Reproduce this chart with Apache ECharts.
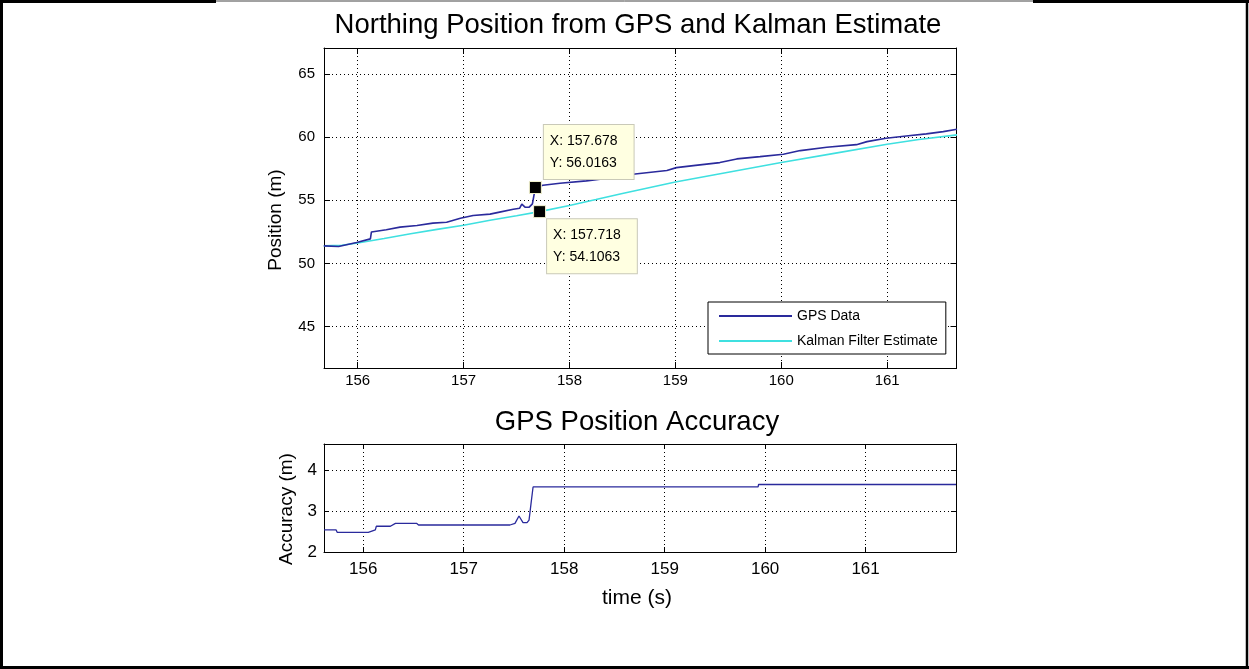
<!DOCTYPE html>
<html>
<head>
<meta charset="utf-8">
<script src="https://cdn.jsdelivr.net/npm/echarts@6/dist/echarts.min.js"></script>
<style>
html,body{margin:0;padding:0;background:#fff;}
#chart{width:1249px;height:669px;}
</style>
</head>
<body>
<div id="chart"></div>
<script>
// ---- data ----
const gpsT = [155.68,155.82,155.99,156.12,156.13,156.27,156.40,156.56,156.71,156.84,156.97,157.09,157.25,157.34,157.47,157.53,157.55,157.58,157.62,157.65,157.678,157.75,157.91,158.16,158.40,158.62,158.92,159.01,159.17,159.42,159.58,159.80,160.02,160.18,160.43,160.71,160.81,160.99,161.18,161.37,161.53,161.66];
const gpsY = [51.40,51.35,51.67,51.95,52.50,52.67,52.88,53.01,53.20,53.27,53.59,53.80,53.91,54.07,54.30,54.38,54.70,54.46,54.46,54.72,56.0163,56.20,56.36,56.54,56.80,57.09,57.36,57.59,57.75,57.99,58.28,58.46,58.65,58.94,59.20,59.41,59.65,59.92,60.10,60.26,60.44,60.63];
const kalT = [155.68,155.85,156.0,156.25,156.5,156.75,157.0,157.25,157.5,157.718,158.0,158.25,158.5,158.75,159.0,159.5,160.0,160.5,161.0,161.3,161.66];
const kalY = [51.40,51.45,51.62,51.98,52.35,52.70,53.03,53.42,53.78,54.1063,54.60,55.07,55.55,56.00,56.45,57.22,57.99,58.72,59.44,59.82,60.18];
const accT = [155.61,155.73,155.74,156.05,156.12,156.13,156.27,156.32,156.53,156.55,157.46,157.51,157.55,157.59,157.63,157.65,157.67,157.69,159.93,159.935,161.9];
const accY = [2.54,2.54,2.48,2.48,2.54,2.63,2.63,2.70,2.70,2.66,2.66,2.70,2.88,2.72,2.72,2.78,3.19,3.59,3.59,3.65,3.65];
const tipX = [157.678, 157.718];
const tipY = [56.0163, 54.1063];
const seriesNames = ['GPS Data', 'Kalman Filter Estimate', 'Accuracy'];
const titles = ['Northing Position from GPS and Kalman Estimate', 'GPS Position Accuracy'];
const axisNames = ['Position (m)', 'Accuracy (m)', 'time (s)'];

const pair = (a, b) => a.map((v, i) => [v, b[i]]);
const FONT = '"Liberation Sans", Arial, sans-serif';
const dotted = {show: true, lineStyle: {color: '#000', width: 1, type: [1, 3]}};
const intLabel = v => Math.abs(v - Math.round(v)) < 1e-6 ? String(Math.round(v)) : '';
const fiveLabel = v => (Math.abs(v / 5 - Math.round(v / 5)) < 1e-6) ? String(Math.round(v)) : '';

const chart = echarts.init(document.getElementById('chart'), null, {renderer: 'canvas'});

const tipLabel = (i, pos) => ({
  show: true,
  position: pos,
  formatter: 'X: ' + tipX[i] + '\nY: ' + tipY[i],
  backgroundColor: '#ffffe1',
  borderColor: '#c9c9b8',
  borderWidth: 1,
  padding: [5, 16, 5, 6],
  color: '#000',
  fontFamily: FONT,
  fontSize: 14,
  lineHeight: 22,
  align: 'left',
  verticalAlign: 'top'
});

const option = {
  animation: false,
  backgroundColor: '#fff',
  textStyle: {fontFamily: FONT},
  title: [
    {text: titles[0], left: 633, top: 6, textAlign: 'center',
     textStyle: {fontFamily: FONT, fontSize: 27.5, fontWeight: 'normal', color: '#000'}},
    {text: titles[1], left: 632, top: 403, textAlign: 'center',
     textStyle: {fontFamily: FONT, fontSize: 27.5, fontWeight: 'normal', color: '#000'}}
  ],
  grid: [
    {left: 324, top: 48, right: 292.5, bottom: 301},
    {left: 324, top: 444, right: 293, bottom: 117}
  ],
  legend: {
    data: [seriesNames[0], seriesNames[1]],
    orient: 'vertical',
    left: 708, top: 302,
    icon: 'rect', itemWidth: 73, itemHeight: 2, itemGap: 11,
    padding: [7, 8, 6, 11],
    backgroundColor: '#fff', borderColor: '#000', borderWidth: 1,
    textStyle: {fontFamily: FONT, fontSize: 14, color: '#000'},
    z: 10
  },
  xAxis: [
    {type: 'value', gridIndex: 0, min: 155.682, max: 161.655, position: 'bottom',
     axisLine: {lineStyle: {color: '#000'}}, axisTick: {inside: true, length: 6, lineStyle: {color: '#000'}},
     axisLabel: {formatter: intLabel, color: '#000', fontSize: 15, margin: 5}, splitLine: dotted},
    {type: 'value', gridIndex: 0, min: 155.682, max: 161.655, position: 'top',
     axisLine: {lineStyle: {color: '#000'}}, axisTick: {inside: true, length: 6, lineStyle: {color: '#000'}},
     axisLabel: {show: false}, splitLine: {show: false}},
    {type: 'value', gridIndex: 1, min: 155.609, max: 161.9, position: 'bottom',
     axisLine: {lineStyle: {color: '#000'}}, axisTick: {inside: true, length: 5, lineStyle: {color: '#000'}},
     axisLabel: {formatter: intLabel, color: '#000', fontSize: 17, margin: 9}, splitLine: dotted},
    {type: 'value', gridIndex: 1, min: 155.609, max: 161.9, position: 'top',
     axisLine: {lineStyle: {color: '#000'}}, axisTick: {inside: true, length: 5, lineStyle: {color: '#000'}},
     axisLabel: {show: false}, splitLine: {show: false}}
  ],
  yAxis: [
    {type: 'value', gridIndex: 0, min: 41.73, max: 67.06, position: 'left',
     axisLine: {show: true, lineStyle: {color: '#000'}}, axisTick: {show: true, inside: true, length: 6, lineStyle: {color: '#000'}},
     axisLabel: {formatter: fiveLabel, color: '#000', fontSize: 15, margin: 9}, splitLine: dotted},
    {type: 'value', gridIndex: 0, min: 41.73, max: 67.06, position: 'right',
     axisLine: {show: true, lineStyle: {color: '#000'}}, axisTick: {show: true, inside: true, length: 6, lineStyle: {color: '#000'}},
     axisLabel: {show: false}, splitLine: {show: false}},
    {type: 'value', gridIndex: 1, min: 2, max: 4.64, interval: 1, position: 'left',
     axisLine: {show: true, lineStyle: {color: '#000'}}, axisTick: {show: true, inside: true, length: 5, lineStyle: {color: '#000'}},
     axisLabel: {formatter: intLabel, color: '#000', fontSize: 17, margin: 7}, splitLine: dotted},
    {type: 'value', gridIndex: 1, min: 2, max: 4.64, interval: 1, position: 'right',
     axisLine: {show: true, lineStyle: {color: '#000'}}, axisTick: {show: true, inside: true, length: 5, lineStyle: {color: '#000'}},
     axisLabel: {show: false}, splitLine: {show: false}}
  ],
  series: [
    {name: seriesNames[0], type: 'line', xAxisIndex: 0, yAxisIndex: 0, data: pair(gpsT, gpsY),
     showSymbol: false, color: '#2a2a9c', lineStyle: {color: '#2a2a9c', width: 1.6}, z: 3,
     markPoint: {symbol: 'rect', symbolSize: 12, itemStyle: {color: '#000', borderColor: '#f4f4d0', borderWidth: 1},
       data: [{coord: [tipX[0], tipY[0]], label: tipLabel(0, [15, -56])}], z: 8}},
    {name: seriesNames[1], type: 'line', xAxisIndex: 0, yAxisIndex: 0, data: pair(kalT, kalY),
     showSymbol: false, color: '#3fe0e0', lineStyle: {color: '#3fe0e0', width: 1.6}, z: 2,
     markPoint: {symbol: 'rect', symbolSize: 12, itemStyle: {color: '#000', borderColor: '#f4f4d0', borderWidth: 1},
       data: [{coord: [tipX[1], tipY[1]], label: tipLabel(1, [14, 14])}], z: 8}},
    {name: seriesNames[2], type: 'line', xAxisIndex: 2, yAxisIndex: 2, data: pair(accT, accY),
     showSymbol: false, color: '#2a2a9c', lineStyle: {color: '#2a2a9c', width: 1.3}}
  ],
  graphic: [
    {type: 'text', x: 276, y: 220, rotation: Math.PI / 2,
     style: {text: axisNames[0], font: '19px ' + FONT, fill: '#000', textAlign: 'center', textVerticalAlign: 'middle'}},
    {type: 'text', x: 287, y: 509, rotation: Math.PI / 2,
     style: {text: axisNames[1], font: '19px ' + FONT, fill: '#000', textAlign: 'center', textVerticalAlign: 'middle'}},
    {type: 'text', x: 637, y: 598,
     style: {text: axisNames[2], font: '21px ' + FONT, fill: '#000', textAlign: 'center', textVerticalAlign: 'middle'}},
    {type: 'line', shape: {x1: 0, y1: 1.5, x2: 216, y2: 1.5}, style: {stroke: '#000', lineWidth: 3}},
    {type: 'line', shape: {x1: 216, y1: 1, x2: 1033, y2: 1}, style: {stroke: '#444', lineWidth: 1}},
    {type: 'line', shape: {x1: 1033, y1: 1.5, x2: 1249, y2: 1.5}, style: {stroke: '#000', lineWidth: 3}},
    {type: 'line', shape: {x1: 1.5, y1: 0, x2: 1.5, y2: 669}, style: {stroke: '#000', lineWidth: 3}},
    {type: 'line', shape: {x1: 1247, y1: 0, x2: 1247, y2: 669}, style: {stroke: '#000', lineWidth: 2.5}},
    {type: 'line', shape: {x1: 0, y1: 667.5, x2: 1249, y2: 667.5}, style: {stroke: '#000', lineWidth: 3}}
  ]
};
chart.setOption(option);
</script>
</body>
</html>
